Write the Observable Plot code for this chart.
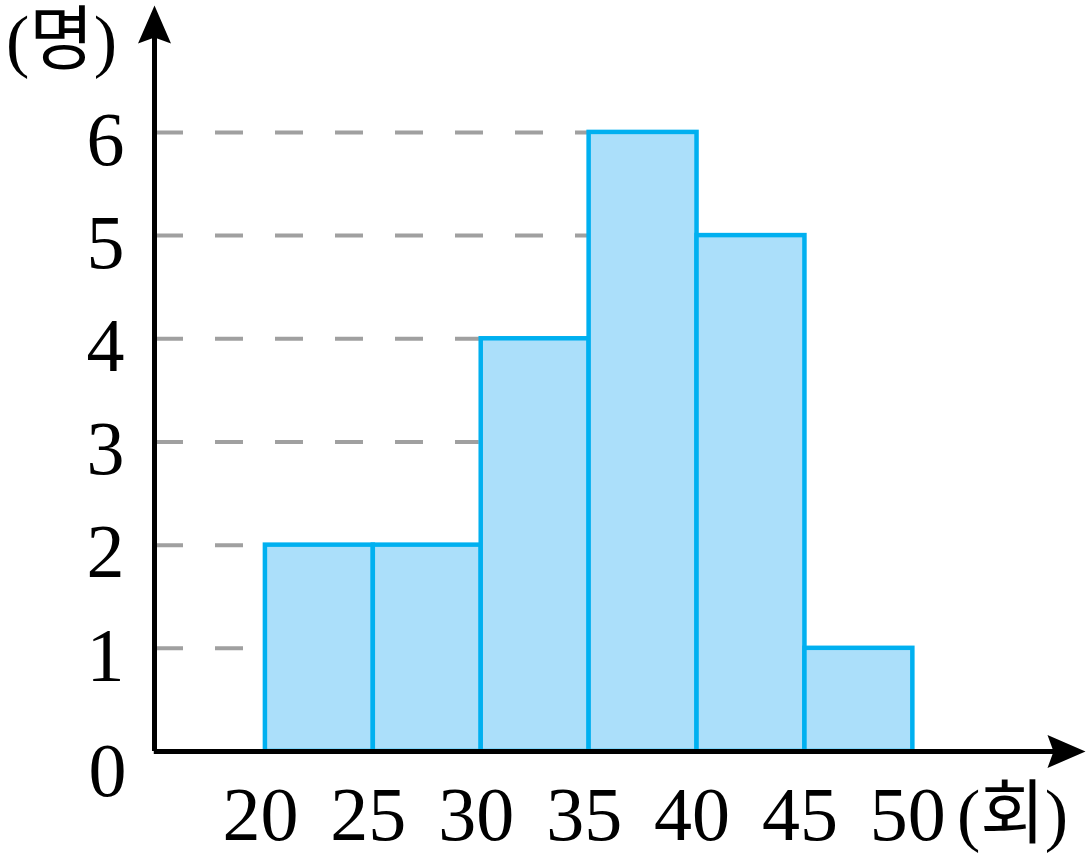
<!DOCTYPE html>
<html>
<head>
<meta charset="utf-8">
<script src="https://cdn.jsdelivr.net/npm/d3@7"></script>
<script src="https://cdn.jsdelivr.net/npm/@observablehq/plot@0.6"></script>
<style>
  html, body { margin: 0; padding: 0; background: #fff; }
  #chart svg { display: block; }
</style>
</head>
<body>
<div id="chart"></div>
<script>
// ---- data ----
const binStart = [20, 25, 30, 35, 40, 45];
const binEnd   = [25, 30, 35, 40, 45, 50];
const counts   = [2, 2, 4, 6, 5, 1];
const xTicks   = [20, 25, 30, 35, 40, 45, 50];
const yTicks   = [0, 1, 2, 3, 4, 5, 6];
const yUnit = "(명)";
const xUnit = "(회)";

// ---- derived tables ----
const bins = binStart.map((s, i) => ({x1: s, x2: binEnd[i], y: counts[i]}));
const xMin = 15, xMax = 58, yMax = 7.23;
const grid = yTicks.filter(v => v > 0).map(v => {
  const exact = bins.filter(b => b.y === v);
  const end = exact.length ? d3.max(exact, b => b.x2) : (bins.find(b => b.y >= v) || {x1: xMax}).x1;
  return {y: v, x1: xMin, x2: end};
});

// stealth-like arrowhead pointing up, tip at origin
const arrowHead = {
  draw(ctx) {
    ctx.moveTo(0, 0);
    ctx.lineTo(16.5, 38);
    ctx.lineTo(0, 32);
    ctx.lineTo(-16.5, 38);
    ctx.closePath();
  }
};

const font = "'Liberation Serif', 'Noto Sans CJK KR', serif";

const chart = Plot.plot({
  width: 1091,
  height: 865,
  marginLeft: 157,
  marginRight: 6,
  marginTop: 5,
  marginBottom: 114,
  style: {fontFamily: font, background: "#fff"},
  x: {domain: [xMin, xMax], axis: null},
  y: {domain: [0, yMax], axis: null},
  marks: [
    Plot.ruleY(grid, {y: "y", x1: "x1", x2: "x2", dx: -2, stroke: "#a0a0a0", strokeWidth: 4, strokeDasharray: "28,32"}),
    Plot.rectY(bins, {x1: "x1", x2: "x2", y: "y", fill: "#abdffa", stroke: "#00b0f0", strokeWidth: 4.5}),
    Plot.ruleX([xMin], {y1: 0, y2: yMax - 0.3, dx: -3, stroke: "#000", strokeWidth: 5}),
    Plot.ruleY([0], {x1: xMin - 0.15, x2: xMax - 1.4, stroke: "#000", strokeWidth: 5}),
    Plot.dot([{x: xMin, y: yMax}], {x: "x", y: "y", dx: -3, symbol: arrowHead, fill: "#000", stroke: "none", r: 10}),
    Plot.dot([{x: xMax, y: 0}], {x: "x", y: "y", symbol: arrowHead, fill: "#000", stroke: "none", r: 10, rotate: 90}),
    Plot.text(yTicks.filter(v => v > 0), {x: xMin, y: d => d, text: d => String(d), textAnchor: "end", dx: -33, dy: 8, fontSize: 76, fill: "#000"}),
    Plot.text([0], {x: xMin, y: d => d, text: d => String(d), textAnchor: "end", dx: -31, dy: 20, fontSize: 76, fill: "#000"}),
    Plot.text(xTicks, {x: d => d, y: 0, text: d => String(d), dx: -5, dy: 64, fontSize: 76, fill: "#000"}),
    Plot.text([yUnit], {frameAnchor: "top-left", text: d => d, dx: -96, dy: 36, textAnchor: "middle", lineAnchor: "middle", fontSize: 70, fill: "#000"}),
    Plot.text([xUnit], {frameAnchor: "bottom-right", text: d => d, dx: -73, dy: 64, textAnchor: "middle", lineAnchor: "middle", fontSize: 70, fill: "#000"})
  ]
});
document.getElementById("chart").appendChild(chart);
</script>
</body>
</html>
